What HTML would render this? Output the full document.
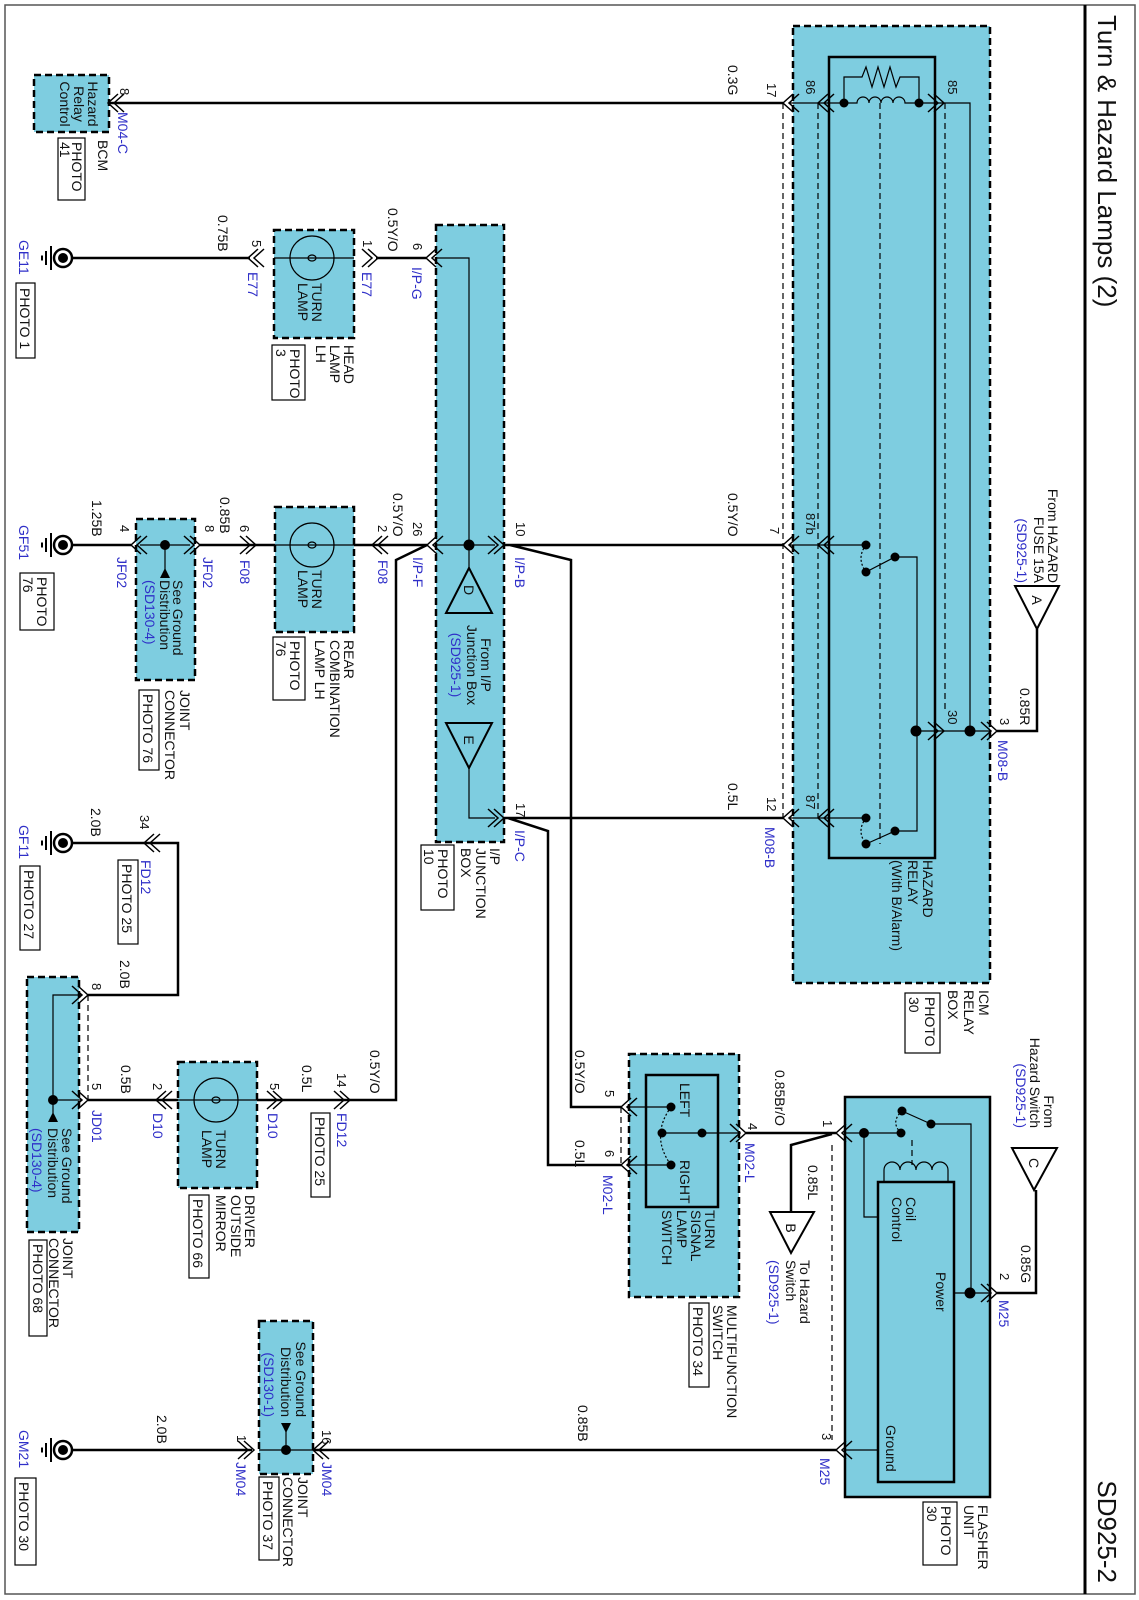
<!DOCTYPE html>
<html><head><meta charset="utf-8"><style>
html,body{margin:0;padding:0;background:#fff}
svg{display:block}
text{font-family:"Liberation Sans",Arial,sans-serif;font-size:14px;fill:#111}
.b{fill:#2f2fc8}
.t{font-size:26px}
.s{font-size:13px}
.w{stroke:#000;stroke-width:2.5;fill:none}
.th{stroke:#000;stroke-width:1.2;fill:none}
.d{stroke:#000;stroke-width:1.2;fill:none;stroke-dasharray:6 4}
.bx{fill:#7ecde0;stroke:#000;stroke-width:2.5;stroke-dasharray:7 4}
.sb{fill:#7ecde0;stroke:#000;stroke-width:2.5}
.pb{fill:none;stroke:#000;stroke-width:1.2}
.ar{stroke:#000;stroke-width:1.5;fill:none}
</style></head><body>
<svg width="1139" height="1600" viewBox="0 0 1139 1600" xmlns="http://www.w3.org/2000/svg">
<defs>
<g id="cl"><path class="ar" d="M10,-9 L0,0 L10,9 M16,-9 L6,0 L16,9"/></g>
<g id="cr"><path class="ar" d="M-10,-9 L0,0 L-10,9 M-16,-9 L-6,0 L-16,9"/></g>
<g id="gnd"><circle cx="0" cy="0" r="9" fill="#fff" stroke="#000" stroke-width="2.5"/><circle cx="0" cy="0" r="5" fill="#000"/>
<path d="M-12,-12 V12 M-17,-7 V7 M-21,-2.5 V2.5" stroke="#000" stroke-width="2"/></g>
</defs>
<rect x="5" y="5" width="1130" height="1589" fill="#fff" stroke="#555" stroke-width="1.5"/>
<line x1="1085" y1="5" x2="1085" y2="1594" stroke="#000" stroke-width="3"/>

<rect class="bx" x="793" y="26" width="197" height="957"/>
<rect class="th" x="829" y="57" width="106" height="801" style="stroke-width:2.5"/>
<rect class="bx" x="34" y="75" width="75" height="57"/>
<rect class="bx" x="436" y="225" width="68" height="617"/>
<rect class="bx" x="274" y="230" width="80" height="108"/>
<rect class="bx" x="275" y="507" width="79" height="125"/>
<rect class="bx" x="136" y="519" width="59" height="161"/>
<rect class="bx" x="27" y="977" width="52" height="255"/>
<rect class="bx" x="178" y="1062" width="79" height="126"/>
<rect class="bx" x="629" y="1054" width="110" height="243"/>
<rect class="th" x="646" y="1075" width="72" height="132" style="stroke-width:2.5"/>
<rect class="sb" x="845" y="1097" width="145" height="400"/>
<rect class="th" x="878" y="1182" width="76" height="300" style="stroke-width:2.5"/>
<rect class="bx" x="259" y="1321" width="54" height="153"/>

<rect class="pb" x="905" y="993" width="35" height="60"/>
<rect class="pb" x="58" y="138" width="27" height="62"/>
<rect class="pb" x="16" y="283" width="19" height="75"/>
<rect class="pb" x="272" y="345" width="33" height="55"/>
<rect class="pb" x="421" y="845" width="33" height="65"/>
<rect class="pb" x="273" y="637" width="32" height="63"/>
<rect class="pb" x="139" y="690" width="20" height="80"/>
<rect class="pb" x="20" y="573" width="34" height="57"/>
<rect class="pb" x="20" y="866" width="20" height="84"/>
<rect class="pb" x="118" y="860" width="20" height="84"/>
<rect class="pb" x="29" y="1240" width="18" height="96"/>
<rect class="pb" x="311" y="1113" width="19" height="84"/>
<rect class="pb" x="189" y="1195" width="20" height="83"/>
<rect class="pb" x="689" y="1303" width="20" height="84"/>
<rect class="pb" x="923" y="1502" width="34" height="63"/>
<rect class="pb" x="15" y="1478" width="21" height="87"/>
<rect class="pb" x="259" y="1477" width="20" height="83"/>

<path class="w" d="M110,103 H783"/>
<path class="w" d="M72,258 H250 M376,258 H426"/>
<path class="w" d="M504,545 H783 M510,545 L571,560 V1107 H621"/>
<path class="w" d="M504,818 H783 M508,818 L548,831 V1165 H621"/>
<path class="w" d="M427,545 L396,560 V1100 H350"/>
<path class="w" d="M72,545 H131 M200,545 H256 M256,545 H275 M354,545 H427"/>
<path class="w" d="M72,843 H144 M144,843 H178 V995 H88"/>
<path class="w" d="M88,1100 H178 M257,1100 H350"/>
<path class="w" d="M997,731 H1037 V629"/>
<path class="w" d="M746,1133 H836 M832,1134 L791,1145 V1212"/>
<path class="w" d="M997,1293 H1036 V1190"/>
<path class="w" d="M836,1450 H313 M252,1450 H72"/>

<path class="d" d="M783,103 V818 M818,103 V818 M880,103 V844 M945,103 V712"/>
<path class="th" d="M790,103 H857 a6,6 0 0,1 12,0 a6,6 0 0,1 12,0 a6,6 0 0,1 12,0 a6,6 0 0,1 12,0 H944"/>
<path class="th" d="M844,103 V77 H862 L866,67 L872,87 L878,67 L884,87 L890,67 L896,87 L900,77 H919 V103"/>
<circle cx="844" cy="103" r="4.5"/><circle cx="919" cy="103" r="4.5"/>
<path class="th" d="M944,103 H970 V731"/>
<path class="th" d="M790,545 H866 M866,572 L895,557 H917 V831 H895 L866,844 M790,818 H866"/>
<path class="th" d="M866,545 Q856,558 866,572 M866,818 Q856,831 866,844" style="stroke-dasharray:2 2"/>
<circle cx="866" cy="545" r="4.5"/><circle cx="866" cy="572" r="4.5"/><circle cx="895" cy="557" r="4.5"/>
<circle cx="866" cy="818" r="4.5"/><circle cx="866" cy="844" r="4.5"/><circle cx="895" cy="831" r="4.5"/>
<path class="th" d="M916,731 H990"/>
<circle cx="916" cy="731" r="5.5"/><circle cx="970" cy="731" r="5.5"/>
<use href="#cl" x="783" y="103"/><use href="#cl" x="818" y="103"/><use href="#cr" x="944" y="103"/>
<use href="#cl" x="783" y="545"/><use href="#cl" x="818" y="545"/>
<use href="#cl" x="783" y="818"/><use href="#cl" x="818" y="818"/>
<use href="#cr" x="944" y="731"/><use href="#cr" x="997" y="731"/>
<path d="M1015,586 H1059 L1037,629 Z" fill="#fff" stroke="#000" stroke-width="2"/>

<use href="#cl" x="108" y="103"/>

<use href="#gnd" x="63" y="258"/><use href="#gnd" x="63" y="545"/><use href="#gnd" x="63" y="843"/><use href="#gnd" x="63" y="1450"/>

<path class="th" d="M274,258 H354"/>
<circle cx="312" cy="258" r="22" class="th"/>
<ellipse cx="312" cy="258" rx="4" ry="3" class="th"/>
<use href="#cl" x="248" y="258"/><use href="#cr" x="378" y="258"/><use href="#cl" x="426" y="258"/>

<path class="th" d="M437,258 H469 V568 M437,545 H495 M469,768 V818 H495"/>
<circle cx="469" cy="545" r="5.5"/>
<path d="M469,568 L492,613 H446 Z" fill="none" stroke="#000" stroke-width="2"/>
<path d="M446,723 H492 L469,768 Z" fill="none" stroke="#000" stroke-width="2"/>
<use href="#cl" x="427" y="545"/><use href="#cr" x="504" y="545"/><use href="#cr" x="504" y="818"/>

<path class="th" d="M275,545 H354"/>
<circle cx="312" cy="545" r="22" class="th"/>
<ellipse cx="312" cy="545" rx="4" ry="3" class="th"/>
<use href="#cl" x="131" y="545"/><use href="#cr" x="200" y="545"/><use href="#cr" x="256" y="545"/><use href="#cl" x="372" y="545"/>
<path class="th" d="M140,545 H190 M165,545 V570"/>
<circle cx="165" cy="545" r="5"/>
<path d="M165,568 L170,578 H160 Z"/>

<use href="#cl" x="144" y="843"/><use href="#cr" x="88" y="995"/><use href="#cr" x="88" y="1100"/>
<path class="th" d="M82,995 H53 V1100 H82 M53,1100 V1113"/>
<path class="d" d="M88,995 V1100"/>
<circle cx="53" cy="1100" r="5"/>
<path d="M53,1112 L58,1122 H48 Z"/>

<path class="th" d="M178,1100 H257"/>
<circle cx="216" cy="1100" r="22" class="th"/>
<ellipse cx="216" cy="1100" rx="4" ry="3" class="th"/>
<use href="#cl" x="156" y="1100"/><use href="#cr" x="283" y="1100"/><use href="#cr" x="350" y="1100"/>

<path class="th" d="M630,1107 H671 M630,1165 H671 M662,1133 H740"/>
<path class="th" d="M671,1107 Q650,1136 671,1165" style="stroke-dasharray:2 2"/>
<path class="d" d="M621,1107 V1165"/>
<circle cx="671" cy="1107" r="4.5"/><circle cx="671" cy="1165" r="4.5"/><circle cx="662" cy="1133" r="4.5"/><circle cx="702" cy="1133" r="4.5"/>
<use href="#cl" x="621" y="1107"/><use href="#cl" x="621" y="1165"/><use href="#cr" x="746" y="1133"/>
<path d="M770,1212 H814 L791,1253 Z" fill="#fff" stroke="#000" stroke-width="2"/>

<use href="#cl" x="836" y="1133"/>
<path class="th" d="M846,1133 H901 M864,1133 V1217 H878 M931,1124 L902,1111 M931,1124 H971 V1293 M954,1293 H990"/>
<path class="th" d="M901,1133 Q890,1122 902,1111" style="stroke-dasharray:2 2"/>
<circle cx="864" cy="1133" r="5"/><circle cx="901" cy="1133" r="4.5"/><circle cx="902" cy="1111" r="4.5"/><circle cx="931" cy="1124" r="4.5"/><circle cx="970" cy="1293" r="5.5"/>
<path class="d" d="M912,1140 V1165 M832,1145 V1440"/>
<path class="th" d="M884,1182 V1170 a8,8 0 0,1 16,0 a8,8 0 0,1 16,0 a8,8 0 0,1 16,0 a8,8 0 0,1 16,0 V1182"/>
<use href="#cr" x="997" y="1293"/>
<path d="M1012,1148 H1057 L1034,1190 Z" fill="#fff" stroke="#000" stroke-width="2"/>
<path class="th" d="M878,1450 H846"/>
<use href="#cl" x="836" y="1450"/>

<path class="th" d="M259,1450 H313 M286,1450 V1430"/>
<circle cx="286" cy="1450" r="5"/>
<path d="M286,1433 L291,1423 H281 Z"/>
<use href="#cl" x="313" y="1450"/><use href="#cr" x="254" y="1450"/>

<g transform="rotate(90)">
<text class="t" x="15" y="-1098">Turn &amp; Hazard Lamps (2)</text>
<text class="t" x="1583" y="-1098" text-anchor="end">SD925-2</text>

<text x="65" y="-728">0.3G</text>
<text class="s" x="83" y="-767">17</text>
<text class="s" x="80" y="-806">86</text>
<text class="s" x="80" y="-948">85</text>
<text x="493" y="-728">0.5Y/O</text>
<text class="s" x="527" y="-770">7</text>
<text class="s" x="513" y="-806">87b</text>
<text class="s" x="710" y="-948">30</text>
<text class="s" x="718" y="-1000">3</text>
<text class="b" x="740" y="-998">M08-B</text>
<text x="688" y="-1020">0.85R</text>
<text x="600" y="-1032" text-anchor="middle" font-size="15">A</text>
<text x="583" y="-1048" text-anchor="end">From HAZARD</text>
<text x="583" y="-1034" text-anchor="end">FUSE 15A</text>
<text class="b" x="583" y="-1017" text-anchor="end">(SD925-1)</text>
<text x="783" y="-728">0.5L</text>
<text class="s" x="797" y="-767">12</text>
<text class="b" x="827" y="-765">M08-B</text>
<text class="s" x="795" y="-806">87</text>
<text x="860" y="-923">HAZARD</text>
<text x="860" y="-908">RELAY</text>
<text x="860" y="-892">(With B/Alarm)</text>
<text x="990" y="-979">ICM</text>
<text x="990" y="-964">RELAY</text>
<text x="990" y="-948">BOX</text>
<text x="997" y="-925">PHOTO</text>
<text x="997" y="-909">30</text>

<text x="104" y="-88" text-anchor="middle">Hazard</text>
<text x="104" y="-74" text-anchor="middle">Relay</text>
<text x="104" y="-60" text-anchor="middle">Control</text>
<text class="s" x="88" y="-120">8</text>
<text class="b" x="112" y="-118">M04-C</text>
<text x="140" y="-98">BCM</text>
<text x="142" y="-72">PHOTO</text>
<text x="142" y="-60">41</text>

<text class="b" x="240" y="-19">GE11</text>
<text x="288" y="-20">PHOTO 1</text>
<text x="215" y="-218">0.75B</text>
<text class="s" x="240" y="-252">5</text>
<text class="b" x="272" y="-248">E77</text>
<text class="s" x="240" y="-363">1</text>
<text class="b" x="272" y="-362">E77</text>
<text x="208" y="-388">0.5Y/O</text>
<text class="s" x="243" y="-413">6</text>
<text class="b" x="267" y="-412">I/P-G</text>
<text x="283" y="-312">TURN</text>
<text x="283" y="-298">LAMP</text>
<text x="345" y="-344">HEAD</text>
<text x="345" y="-330">LAMP</text>
<text x="345" y="-316">LH</text>
<text x="349" y="-290">PHOTO</text>
<text x="349" y="-276">3</text>

<text x="665" y="-481" text-anchor="middle">From I/P</text>
<text x="665" y="-467" text-anchor="middle">Junction Box</text>
<text class="b" x="665" y="-451" text-anchor="middle">(SD925-1)</text>
<text x="590" y="-464" text-anchor="middle" font-size="15">D</text>
<text x="740" y="-464" text-anchor="middle" font-size="15">E</text>
<text x="493" y="-393">0.5Y/O</text>
<text class="s" x="522" y="-413">26</text>
<text class="b" x="557" y="-413">I/P-F</text>
<text class="s" x="522" y="-516">10</text>
<text class="b" x="557" y="-515">I/P-B</text>
<text class="s" x="803" y="-516">17</text>
<text class="b" x="830" y="-515">I/P-C</text>
<text x="848" y="-490">I/P</text>
<text x="848" y="-476">JUNCTION</text>
<text x="848" y="-461">BOX</text>
<text x="849" y="-438">PHOTO</text>
<text x="849" y="-424">10</text>

<text x="500" y="-92">1.25B</text>
<text class="s" x="525" y="-120">4</text>
<text class="b" x="557" y="-117">JF02</text>
<text class="s" x="525" y="-205">8</text>
<text class="b" x="557" y="-203">JF02</text>
<text x="497" y="-220">0.85B</text>
<text class="s" x="525" y="-240">6</text>
<text class="b" x="560" y="-240">F08</text>
<text class="s" x="525" y="-378">2</text>
<text class="b" x="560" y="-378">F08</text>
<text x="570" y="-312">TURN</text>
<text x="570" y="-298">LAMP</text>
<text x="640" y="-344">REAR</text>
<text x="640" y="-330">COMBINATION</text>
<text x="640" y="-315">LAMP LH</text>
<text x="641" y="-290">PHOTO</text>
<text x="641" y="-276">76</text>
<text x="580" y="-173">See Ground</text>
<text x="580" y="-160">Distribution</text>
<text class="b" x="580" y="-145">(SD130-4)</text>
<text x="690" y="-180">JOINT</text>
<text x="690" y="-165">CONNECTOR</text>
<text x="694" y="-143">PHOTO 76</text>
<text class="b" x="525" y="-19">GF51</text>
<text x="577" y="-37">PHOTO</text>
<text x="577" y="-23">76</text>

<text class="b" x="825" y="-19">GF11</text>
<text x="870" y="-24">PHOTO 27</text>
<text x="808" y="-91">2.0B</text>
<text class="s" x="815" y="-140">34</text>
<text class="b" x="860" y="-141">FD12</text>
<text x="864" y="-122">PHOTO 25</text>
<text x="960" y="-120">2.0B</text>
<text class="s" x="983" y="-92">8</text>
<text x="1128" y="-62">See Ground</text>
<text x="1128" y="-48">Distribution</text>
<text class="b" x="1128" y="-32">(SD130-4)</text>
<text x="1238" y="-63">JOINT</text>
<text x="1238" y="-49">CONNECTOR</text>
<text x="1244" y="-33">PHOTO 68</text>

<text class="s" x="1083" y="-92">5</text>
<text class="b" x="1110" y="-92">JD01</text>
<text x="1065" y="-121">0.5B</text>
<text class="s" x="1083" y="-153">2</text>
<text class="b" x="1113" y="-153">D10</text>
<text x="1130" y="-216">TURN</text>
<text x="1130" y="-202">LAMP</text>
<text class="s" x="1083" y="-270">5</text>
<text class="b" x="1113" y="-268">D10</text>
<text x="1065" y="-302">0.5L</text>
<text class="s" x="1073" y="-337">14</text>
<text class="b" x="1113" y="-337">FD12</text>
<text x="1117" y="-315">PHOTO 25</text>
<text x="1050" y="-370">0.5Y/O</text>
<text x="1195" y="-245">DRIVER</text>
<text x="1195" y="-231">OUTSIDE</text>
<text x="1195" y="-216">MIRROR</text>
<text x="1199" y="-193">PHOTO 66</text>

<text x="1050" y="-575">0.5Y/O</text>
<text x="1140" y="-575">0.5L</text>
<text class="s" x="1090" y="-605">5</text>
<text class="s" x="1150" y="-605">6</text>
<text class="b" x="1175" y="-603">M02-L</text>
<text x="1083" y="-680">LEFT</text>
<text x="1160" y="-680">RIGHT</text>
<text class="s" x="1123" y="-748">4</text>
<text class="b" x="1143" y="-745">M02-L</text>
<text x="1210" y="-705">TURN</text>
<text x="1210" y="-691">SIGNAL</text>
<text x="1210" y="-677">LAMP</text>
<text x="1210" y="-662">SWITCH</text>
<text x="1305" y="-727">MULTIFUNCTION</text>
<text x="1305" y="-713">SWITCH</text>
<text x="1307" y="-693">PHOTO 34</text>
<text x="1070" y="-775">0.85Br/O</text>
<text class="s" x="1120" y="-823">1</text>
<text x="1165" y="-808">0.85L</text>
<text x="1228" y="-786" text-anchor="middle" font-size="15">B</text>
<text x="1260" y="-800">To Hazard</text>
<text x="1260" y="-786">Switch</text>
<text class="b" x="1260" y="-769">(SD925-1)</text>

<text x="1197" y="-906">Coil</text>
<text x="1197" y="-892">Control</text>
<text x="1272" y="-936">Power</text>
<text x="1425" y="-886">Ground</text>
<text class="s" x="1433" y="-822">3</text>
<text class="b" x="1458" y="-820">M25</text>
<text class="s" x="1273" y="-1000">2</text>
<text class="b" x="1300" y="-999">M25</text>
<text x="1245" y="-1021">0.85G</text>
<text x="1163" y="-1029" text-anchor="middle" font-size="15">C</text>
<text x="1128" y="-1044" text-anchor="end">From</text>
<text x="1128" y="-1030" text-anchor="end">Hazard Switch</text>
<text class="b" x="1128" y="-1016" text-anchor="end">(SD925-1)</text>
<text x="1505" y="-978">FLASHER</text>
<text x="1505" y="-964">UNIT</text>
<text x="1506" y="-941">PHOTO</text>
<text x="1506" y="-927">30</text>

<text x="1405" y="-578">0.85B</text>
<text x="1417" y="-296" text-anchor="end">See Ground</text>
<text x="1417" y="-281" text-anchor="end">Distribution</text>
<text class="b" x="1417" y="-264" text-anchor="end">(SD130-1)</text>
<text class="s" x="1430" y="-322">16</text>
<text class="b" x="1462" y="-322">JM04</text>
<text class="s" x="1435" y="-237">1</text>
<text class="b" x="1462" y="-236">JM04</text>
<text x="1415" y="-157">2.0B</text>
<text x="1477" y="-298">JOINT</text>
<text x="1477" y="-283">CONNECTOR</text>
<text x="1481" y="-263">PHOTO 37</text>
<text class="b" x="1430" y="-19">GM21</text>
<text x="1482" y="-19">PHOTO 30</text>
</g>
</svg>
</body></html>
